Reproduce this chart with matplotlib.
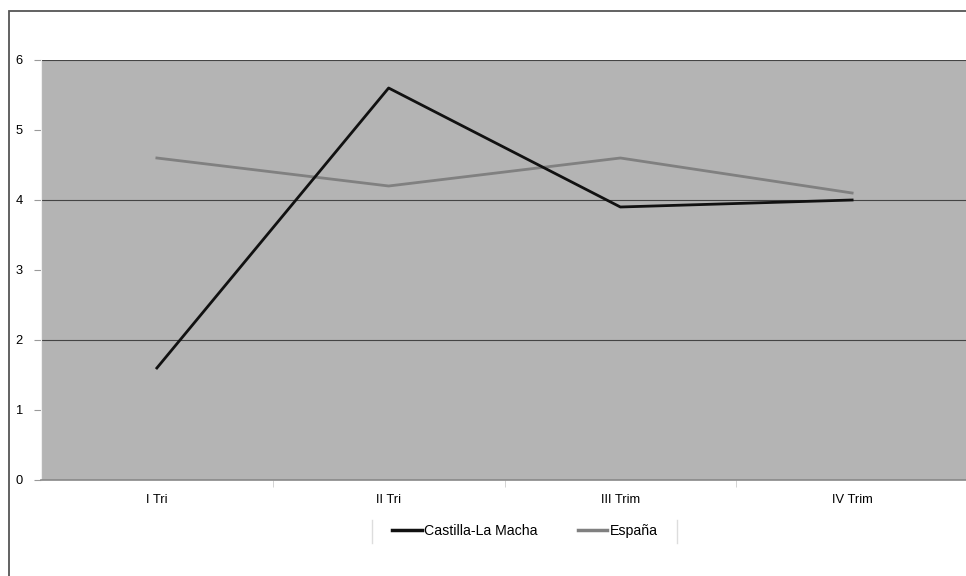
import matplotlib.pyplot as plt
from matplotlib.lines import Line2D
from matplotlib.patches import Rectangle

plt.rcParams['font.family'] = ['Liberation Sans', 'DejaVu Sans']

trimestres = ['I Tri', 'II Tri', 'III Trim', 'IV Trim']
castilla = [1.6, 5.6, 3.9, 4.0]
espana = [4.6, 4.2, 4.6, 4.1]
y_ticks = [0, 1, 2, 3, 4, 5, 6]

W, H = 966, 576
fig = plt.figure(figsize=(W / 100, H / 100), dpi=100)

# outer chart frame
fig.add_artist(Rectangle((9 / W, -0.1), 1.2, 1.1 - 11 / H, transform=fig.transFigure,
                         fill=False, edgecolor='#555555', linewidth=1.3))

ax = fig.add_axes([41 / W, 1 - 480 / H, (968 - 41) / W, 420 / H])
ax.set_facecolor('#b4b4b4')

x = range(len(trimestres))
ax.plot(x, espana, color='#808080', linewidth=2.0, label='España', zorder=3)
ax.plot(x, castilla, color='#111111', linewidth=2.0, label='Castilla-La Macha', zorder=4)

ax.set_xlim(-0.5, len(trimestres) - 0.5)
ax.set_ylim(0, 6)
ax.set_yticks(y_ticks)
ax.set_yticklabels([str(v) for v in y_ticks], fontsize=9.3)
ax.set_xticks(list(x))
ax.set_xticklabels(trimestres, fontsize=9.3)
ax.tick_params(axis='x', length=0, pad=10)
ax.set_xticks([i + 0.5 for i in range(len(trimestres) - 1)], minor=True)
ax.tick_params(axis='x', which='minor', length=5, color='#cccccc', direction='out')
ax.tick_params(axis='y', length=5, color='#999999', pad=8)

for g in [2, 4, 6]:
    ax.axhline(g, color='#444444', linewidth=0.8, zorder=1)

for side in ['top', 'right']:
    ax.spines[side].set_visible(False)
ax.spines['left'].set_color('#eeeeee')
ax.spines['bottom'].set_color('#888888')
ax.spines['bottom'].set_linewidth(1.2)

handles = [Line2D([], [], color='#111111', linewidth=2.5),
           Line2D([], [], color='#808080', linewidth=2.5)]
fig.legend(handles, ['Castilla-La Macha', 'España'], loc='center',
           bbox_to_anchor=(525 / W, 1 - 531 / H), ncol=2, frameon=False,
           fontsize=10.2, handlelength=2.1, handletextpad=0.2, columnspacing=2.8)
for lx in [372, 677]:
    fig.add_artist(Line2D([lx / W, lx / W], [1 - 520 / H, 1 - 543 / H],
                          transform=fig.transFigure, color='#dddddd', linewidth=1))

fig.savefig('out.png', dpi=100)
